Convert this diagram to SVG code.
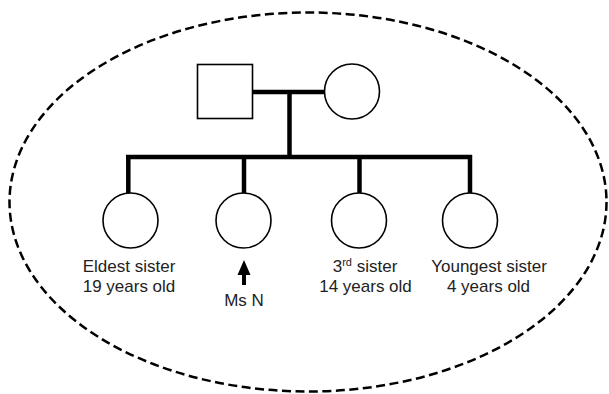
<svg xmlns="http://www.w3.org/2000/svg" width="609" height="394" viewBox="0 0 609 394">
<style>
.ln{stroke:#000;stroke-width:4.5;fill:none;stroke-linecap:butt}
.nd{fill:#fff;stroke:#000;stroke-width:1.6}
.t{font-family:"Liberation Sans",Arial,sans-serif;font-size:17px;fill:#222;text-anchor:middle}
</style>
<rect width="609" height="394" fill="#fff"/>
<ellipse cx="308" cy="202" rx="298.5" ry="189.5" fill="none" stroke="#000" stroke-width="2.5" stroke-dasharray="9 4.5"/>
<g id="connectors">
<line class="ln" x1="252" y1="92" x2="324" y2="92"/>
<line class="ln" x1="289.5" y1="92" x2="289.5" y2="157"/>
<line class="ln" x1="126" y1="157" x2="472" y2="157"/>
<line class="ln" x1="128.3" y1="155" x2="128.3" y2="194"/>
<line class="ln" x1="244" y1="157" x2="244" y2="194"/>
<line class="ln" x1="359.5" y1="157" x2="359.5" y2="194"/>
<line class="ln" x1="470" y1="155" x2="470" y2="194"/>
</g>
<g id="father"><rect class="nd" x="197.5" y="64.5" width="55" height="54"/></g>
<g id="mother"><ellipse class="nd" cx="352" cy="91.5" rx="27.5" ry="27.5"/></g>
<g id="eldest">
<ellipse class="nd" cx="130.5" cy="220.5" rx="27.5" ry="27.5"/>
<text class="t" x="129" y="272">Eldest sister</text>
<text class="t" x="129" y="292">19 years old</text>
</g>
<g id="msn">
<ellipse class="nd" cx="243.5" cy="220.5" rx="27.5" ry="27.5"/>
<path d="M244 260 L250.5 275 L246 275 L246 285 L242 285 L242 275 L237.5 275 Z" fill="#000"/>
<text class="t" x="244" y="306">Ms N</text>
</g>
<g id="third">
<ellipse class="nd" cx="359" cy="220.5" rx="27.5" ry="27.5"/>
<text class="t" x="365" y="272">3<tspan font-size="11" dy="-6">rd</tspan><tspan dy="6"> sister</tspan></text>
<text class="t" x="365.5" y="292">14 years old</text>
</g>
<g id="youngest">
<ellipse class="nd" cx="470" cy="220.5" rx="27.5" ry="27.5"/>
<text class="t" x="489" y="272">Youngest sister</text>
<text class="t" x="488.5" y="292">4 years old</text>
</g>
</svg>
